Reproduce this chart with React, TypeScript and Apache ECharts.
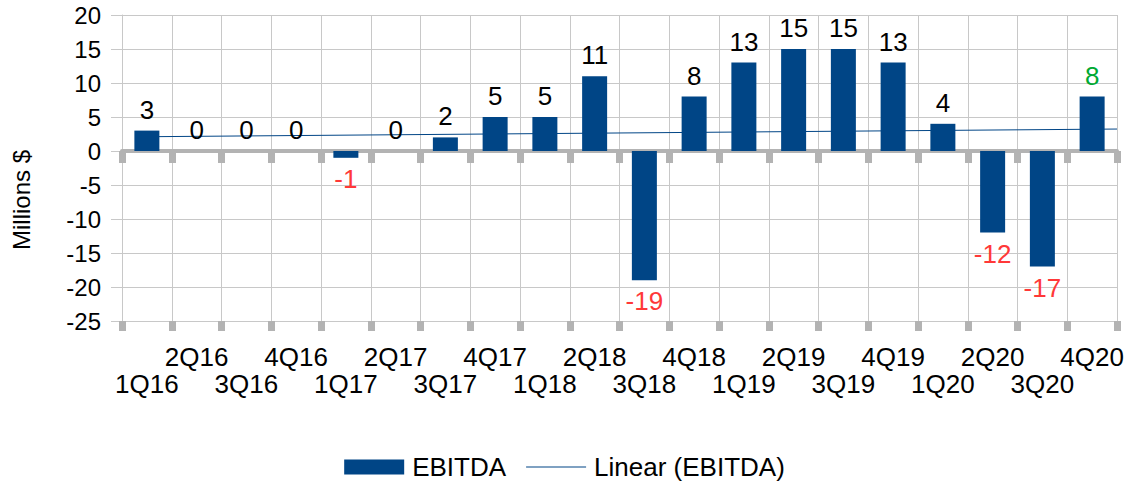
import React, { useEffect, useRef } from "react";
import * as echarts from "echarts";

const categories = [
  "1Q16", "2Q16", "3Q16", "4Q16",
  "1Q17", "2Q17", "3Q17", "4Q17",
  "1Q18", "2Q18", "3Q18", "4Q18",
  "1Q19", "2Q19", "3Q19", "4Q19",
  "1Q20", "2Q20", "3Q20", "4Q20",
];
const ebitda = [3, 0, 0, 0, -1, 0, 2, 5, 5, 11, -19, 8, 13, 15, 15, 13, 4, -12, -17, 8];
// Linear trend line endpoints (position in category units, value)
const trendX = [0.5, 20];
const trendY = [2.1, 3.23];
const yTicks = { min: -25, max: 20, interval: 5 };
const highlightIndex = 19;

const BLUE = "#004586";
const GRID = "#c8c8c8";
const AXIS = "#b3b3b3";
const RED = "#ff3838";
const GREEN = "#00a933";
const FONT = "'Liberation Sans', Arial, sans-serif";

export default function App() {
  const ref = useRef<HTMLDivElement>(null);
  useEffect(() => {
    if (!ref.current) return;
    document.body.style.margin = "0";
    const chart = echarts.init(ref.current, undefined, { renderer: "svg" });
    const barData = ebitda.map((v, i) => ({
      value: v,
      label: {
        position: v < 0 ? "bottom" : "top",
        color: i === highlightIndex ? GREEN : v < 0 ? RED : "#000",
      },
    }));
    chart.setOption({
      animation: false,
      textStyle: { fontFamily: FONT },
      grid: { left: 122, right: 12, top: 15, bottom: 164 },
      graphic: [
        {
          type: "text",
          x: 21,
          y: 200,
          rotation: Math.PI / 2,
          style: {
            text: "Millions $",
            fontSize: 24,
            fontFamily: FONT,
            fill: "#000",
            align: "center",
            verticalAlign: "middle",
          },
        },
      ],
      legend: {
        top: 454,
        left: "center",
        padding: 0,
        itemWidth: 60,
        itemHeight: 15,
        itemGap: 20,
        textStyle: { fontSize: 26, color: "#000", fontFamily: FONT, padding: [0, 0, 0, 3] },
        data: [
          { name: "EBITDA", icon: "rect" },
          { name: "Linear (EBITDA)", icon: "path://M0,0M60,15M0,7L60,7L60,8L0,8Z" },
        ],
      },
      xAxis: [
        {
          type: "category",
          data: categories,
          position: "bottom",
          axisLine: { show: true, onZero: false, lineStyle: { color: GRID, width: 1 } },
          axisTick: { show: true, length: 10, lineStyle: { color: AXIS, width: 7 } },
          splitLine: { show: true, lineStyle: { color: GRID, width: 1 } },
          axisLabel: {
            interval: 0,
            margin: 22,
            fontSize: 26,
            lineHeight: 27,
            color: "#000",
            fontFamily: FONT,
            formatter: (v: string, i: number) => (i % 2 === 1 ? v : "\n" + v),
          },
        },
        {
          type: "category",
          data: categories,
          position: "bottom",
          axisLine: { show: true, onZero: true, lineStyle: { color: AXIS, width: 4 } },
          axisTick: { show: true, length: 12, lineStyle: { color: AXIS, width: 7 } },
          axisLabel: { show: false },
          splitLine: { show: false },
        },
        {
          type: "value",
          min: 0,
          max: 20,
          show: false,
          axisLine: { onZero: false },
          splitLine: { show: false },
        },
      ],
      yAxis: {
        type: "value",
        min: yTicks.min,
        max: yTicks.max,
        interval: yTicks.interval,
        axisLine: { show: true, onZero: false, lineStyle: { color: GRID } },
        axisTick: { show: true, length: 11, lineStyle: { color: GRID } },
        splitLine: { show: true, lineStyle: { color: GRID } },
        axisLabel: { fontSize: 24, color: "#000", margin: 21, fontFamily: FONT },
      },
      series: [
        {
          name: "Linear (EBITDA)",
          type: "line",
          xAxisIndex: 2,
          data: trendX.map((x, i) => [x, trendY[i]]),
          symbol: "none",
          lineStyle: { color: BLUE, width: 1 },
          itemStyle: { color: BLUE },
          z: 1,
        },
        {
          name: "EBITDA",
          type: "bar",
          xAxisIndex: 0,
          data: barData,
          barWidth: 25,
          itemStyle: { color: BLUE },
          label: { show: true, fontSize: 26, distance: 8, fontFamily: FONT },
          z: 2,
        },
      ],
    });
    return () => chart.dispose();
  }, []);
  return <div ref={ref} style={{ width: 1129, height: 485 }} />;
}
